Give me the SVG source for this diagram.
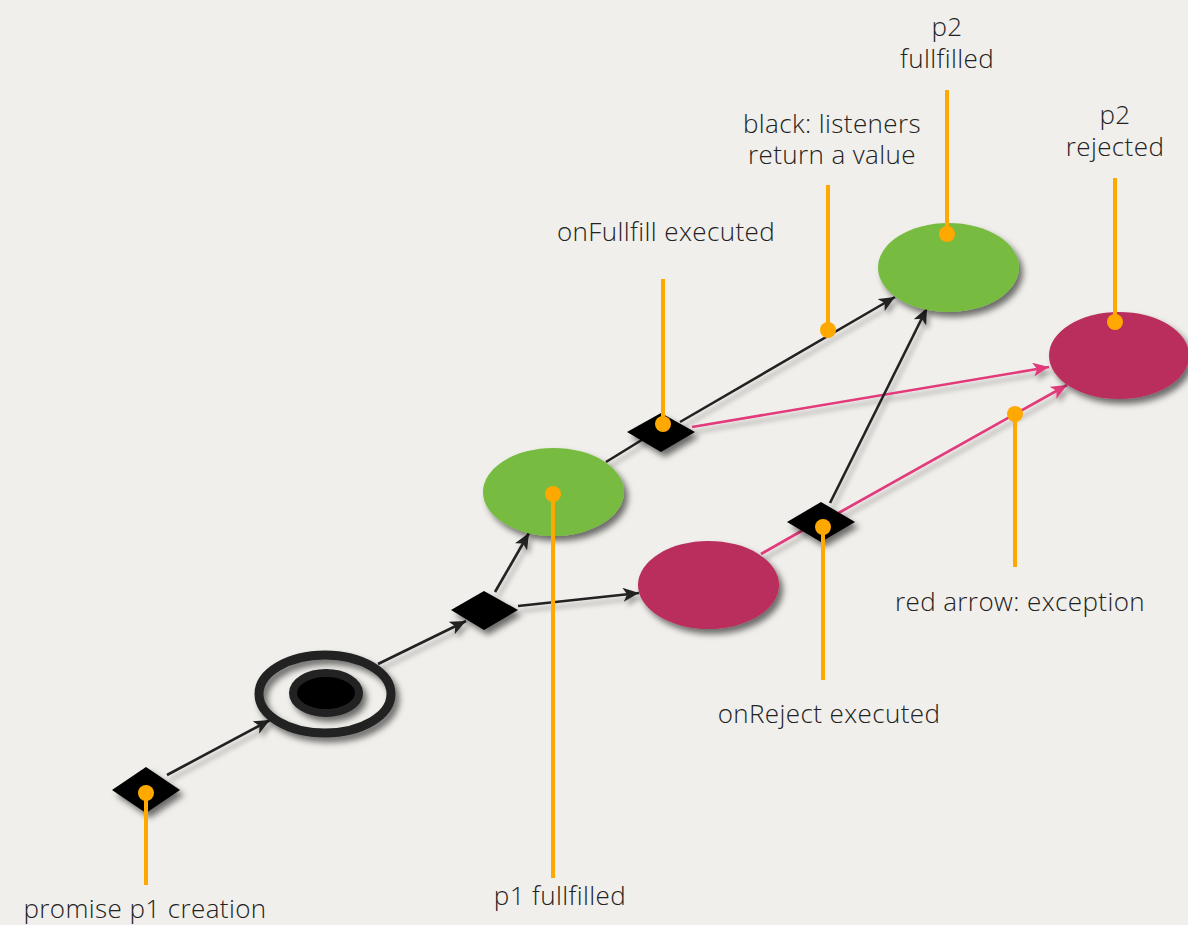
<svg xmlns="http://www.w3.org/2000/svg" width="1188" height="925" viewBox="0 0 1188 925">
<defs>
<style>
.lbl{font-family:"Open Sans",Lato,"Liberation Sans",sans-serif;font-size:26px;letter-spacing:0.4px;font-weight:300;fill:#222;text-anchor:middle}
.blk{stroke:#222;stroke-width:2.6;fill:none}
.red{stroke:#e23a7b;stroke-width:2.6;fill:none}
.co{stroke:#ffa800;stroke-width:4;fill:none}
.dot{fill:#ffa800}
.dia{fill:#000}
.grn{fill:#77bb41}
.mag{fill:#b92d5d}
</style>
<filter id="sh" x="-30%" y="-30%" width="170%" height="170%">
<feDropShadow dx="4" dy="5" stdDeviation="3" flood-color="#000" flood-opacity="0.55"/>
</filter>
<filter id="lsh" x="-10%" y="-10%" width="130%" height="130%">
<feDropShadow dx="3" dy="5" stdDeviation="2.5" flood-color="#000" flood-opacity="0.3"/>
</filter>
<marker id="ab" viewBox="0 0 16 14" refX="16" refY="7" markerWidth="16" markerHeight="14" markerUnits="userSpaceOnUse" orient="auto">
<path d="M0,0 L16,7 L0,14 L4,7 Z" fill="#222"/>
</marker>
<marker id="ar" viewBox="0 0 16 14" refX="16" refY="7" markerWidth="16" markerHeight="14" markerUnits="userSpaceOnUse" orient="auto">
<path d="M0,0 L16,7 L0,14 L4,7 Z" fill="#e23a7b"/>
</marker>
</defs>
<rect width="1188" height="925" fill="#f0efeb"/>

<g id="connectors" filter="url(#lsh)">
<line class="blk" x1="167" y1="775" x2="270" y2="720" marker-end="url(#ab)"/>
<line class="blk" x1="378" y1="664" x2="466" y2="621" marker-end="url(#ab)"/>
<line class="blk" x1="495" y1="592" x2="529" y2="533" marker-end="url(#ab)"/>
<line class="blk" x1="518" y1="606" x2="639" y2="593" marker-end="url(#ab)"/>
<line class="blk" x1="606" y1="462" x2="645" y2="438"/>
<line class="blk" x1="680" y1="422" x2="895" y2="297" marker-end="url(#ab)"/>
<line class="red" x1="692" y1="427" x2="1049" y2="367" marker-end="url(#ar)"/>
<line class="red" x1="761" y1="554" x2="805" y2="529"/>
<line class="blk" x1="830" y1="503" x2="927" y2="308" marker-end="url(#ab)"/>
<line class="red" x1="835" y1="515" x2="1067" y2="385" marker-end="url(#ar)"/>
</g>

<g id="start" filter="url(#sh)"><polygon class="dia" points="112,790 146,767 180,790 146,813"/></g>
<g id="p1" filter="url(#sh)">
<ellipse cx="325" cy="694" rx="66" ry="39" fill="none" stroke="#222" stroke-width="9"/>
<ellipse cx="326" cy="693" rx="33" ry="20" fill="#000" stroke="#222" stroke-width="8"/>
</g>
<g id="d2" filter="url(#sh)"><polygon class="dia" points="451,610 484,591 518,610 484,630"/></g>
<g id="p1fulfilled" filter="url(#sh)"><ellipse class="grn" cx="553.5" cy="492" rx="70.5" ry="44"/></g>
<g id="p1rejected" filter="url(#sh)"><ellipse class="mag" cx="708.5" cy="585" rx="70.5" ry="44"/></g>
<g id="onFulfill" filter="url(#sh)"><polygon class="dia" points="627,432 661,413 695,432 661,452"/></g>
<g id="onReject" filter="url(#sh)"><polygon class="dia" points="787,522 821,502 855,522 821,542"/></g>
<g id="p2fulfilled" filter="url(#sh)"><ellipse class="grn" cx="948.5" cy="267.5" rx="70.5" ry="44.5"/></g>
<g id="p2rejected" filter="url(#sh)"><ellipse class="mag" cx="1119" cy="355.5" rx="70" ry="43.5"/></g>

<g id="callouts">
<line class="co" x1="146" y1="793" x2="146" y2="885"/><circle class="dot" cx="146" cy="793" r="8"/>
<line class="co" x1="553" y1="494" x2="553" y2="878"/><circle class="dot" cx="553" cy="494" r="8"/>
<line class="co" x1="663" y1="279" x2="663" y2="424"/><circle class="dot" cx="663" cy="424" r="8"/>
<line class="co" x1="828" y1="185" x2="828" y2="330"/><circle class="dot" cx="828" cy="330" r="8"/>
<line class="co" x1="947" y1="90" x2="947" y2="234"/><circle class="dot" cx="947" cy="234" r="8"/>
<line class="co" x1="1115" y1="178" x2="1115" y2="322"/><circle class="dot" cx="1115" cy="322" r="8"/>
<line class="co" x1="1015" y1="414" x2="1015" y2="567"/><circle class="dot" cx="1015" cy="414" r="8"/>
<line class="co" x1="823" y1="527" x2="823" y2="680"/><circle class="dot" cx="823" cy="527" r="8"/>
</g>

<g id="labels">
<text class="lbl" x="145" y="918">promise p1 creation</text>
<text class="lbl" x="560" y="905">p1 fullfilled</text>
<text class="lbl" x="666" y="241">onFullfill executed</text>
<text class="lbl" x="832" y="133">black: listeners<tspan x="832" dy="31">return a value</tspan></text>
<text class="lbl" x="947" y="36">p2<tspan x="947" dy="32">fullfilled</tspan></text>
<text class="lbl" x="1115" y="124">p2<tspan x="1115" dy="32">rejected</tspan></text>
<text class="lbl" x="1020" y="611">red arrow: exception</text>
<text class="lbl" x="829" y="723">onReject executed</text>
</g>
</svg>
